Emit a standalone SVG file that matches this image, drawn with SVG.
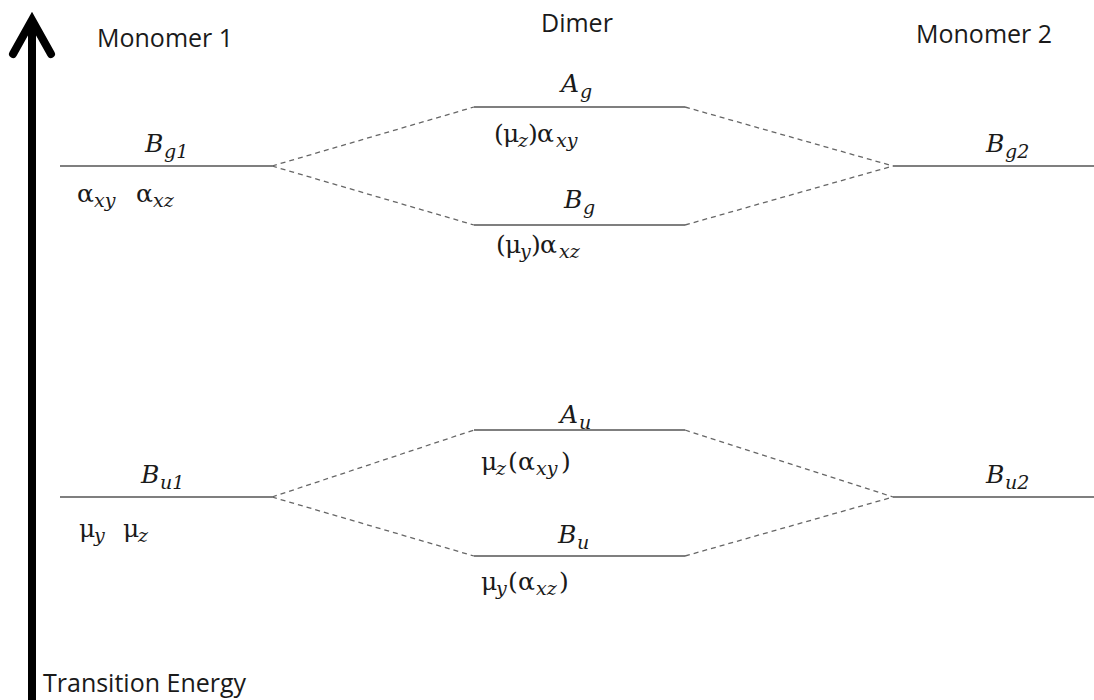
<svg xmlns="http://www.w3.org/2000/svg" width="1094" height="700" viewBox="0 0 1094 700">
<style>
.hd{font-family:"Open Sans","Liberation Sans",sans-serif;font-size:25px;fill:#1a1a1a}
.m{font-family:"DejaVu Serif","Liberation Serif",serif;font-size:25px;fill:#1a1a1a}
.i{font-style:italic}
.s{font-size:19px;font-style:italic}
.lvl{stroke:#555;stroke-width:1.6;fill:none}
.dash{stroke:#666;stroke-width:1.3;stroke-dasharray:5 4;fill:none}
</style>
<rect width="1094" height="700" fill="#fff"/>
<g id="axis">
<line x1="32" y1="700" x2="32" y2="22" stroke="#000" stroke-width="8"/>
<polyline points="13,54 32,20 51,54" fill="none" stroke="#000" stroke-width="8" stroke-linecap="round" stroke-linejoin="miter"/>
<text class="hd" x="43" y="692">Transition Energy</text>
</g>
<g id="headers">
<text class="hd" x="97" y="47">Monomer 1</text>
<text class="hd" x="541" y="32">Dimer</text>
<text class="hd" x="916" y="43">Monomer 2</text>
</g>
<g id="connectors">
<line class="dash" x1="272" y1="166" x2="474" y2="107"/>
<line class="dash" x1="272" y1="166" x2="474" y2="225"/>
<line class="dash" x1="685" y1="107" x2="893" y2="166"/>
<line class="dash" x1="685" y1="225" x2="893" y2="166"/>
<line class="dash" x1="272" y1="497" x2="474" y2="430"/>
<line class="dash" x1="272" y1="497" x2="474" y2="556"/>
<line class="dash" x1="685" y1="430" x2="893" y2="497"/>
<line class="dash" x1="685" y1="556" x2="893" y2="497"/>
</g>
<g id="Bg1">
<line class="lvl" x1="60" y1="166" x2="272" y2="166"/>
<text class="m"><tspan class="i" x="145" y="152">B</tspan><tspan class="s" x="164" y="158">g1</tspan></text>
<text class="m"><tspan x="77" y="202">α</tspan><tspan class="s" x="94" y="207">xy</tspan><tspan x="136" y="202">α</tspan><tspan class="s" x="153" y="207">xz</tspan></text>
</g>
<g id="Bu1">
<line class="lvl" x1="60" y1="497" x2="272" y2="497"/>
<text class="m"><tspan class="i" x="141" y="483">B</tspan><tspan class="s" x="160" y="489">u1</tspan></text>
<text class="m"><tspan x="79" y="537">μ</tspan><tspan class="s" x="94" y="542">y</tspan><tspan x="123" y="537">μ</tspan><tspan class="s" x="138" y="542">z</tspan></text>
</g>
<g id="Ag">
<line class="lvl" x1="474" y1="107" x2="685" y2="107"/>
<text class="m"><tspan class="i" x="561" y="92">A</tspan><tspan class="s" x="580" y="98">g</tspan></text>
<text class="m"><tspan x="494" y="142">(</tspan><tspan x="503" y="142">μ</tspan><tspan class="s" x="518" y="147">z</tspan><tspan x="528" y="142">)</tspan><tspan x="537" y="142">α</tspan><tspan class="s" x="556" y="147">xy</tspan></text>
</g>
<g id="Bg">
<line class="lvl" x1="474" y1="225" x2="685" y2="225"/>
<text class="m"><tspan class="i" x="564" y="208">B</tspan><tspan class="s" x="583" y="214">g</tspan></text>
<text class="m"><tspan x="496" y="253">(</tspan><tspan x="505" y="253">μ</tspan><tspan class="s" x="520" y="258">y</tspan><tspan x="531" y="253">)</tspan><tspan x="540" y="253">α</tspan><tspan class="s" x="559" y="258">xz</tspan></text>
</g>
<g id="Au">
<line class="lvl" x1="474" y1="430" x2="685" y2="430"/>
<text class="m"><tspan class="i" x="560" y="423">A</tspan><tspan class="s" x="579" y="429">u</tspan></text>
<text class="m"><tspan x="481" y="470">μ</tspan><tspan class="s" x="496" y="475">z</tspan><tspan x="508" y="470">(</tspan><tspan x="518" y="470">α</tspan><tspan class="s" x="536" y="475">xy</tspan><tspan x="561" y="470">)</tspan></text>
</g>
<g id="Bu">
<line class="lvl" x1="474" y1="556" x2="685" y2="556"/>
<text class="m"><tspan class="i" x="558" y="543">B</tspan><tspan class="s" x="577" y="549">u</tspan></text>
<text class="m"><tspan x="481" y="590">μ</tspan><tspan class="s" x="496" y="595">y</tspan><tspan x="508" y="590">(</tspan><tspan x="518" y="590">α</tspan><tspan class="s" x="536" y="595">xz</tspan><tspan x="559" y="590">)</tspan></text>
</g>
<g id="Bg2">
<line class="lvl" x1="893" y1="166" x2="1094" y2="166"/>
<text class="m"><tspan class="i" x="986" y="152">B</tspan><tspan class="s" x="1005" y="158">g2</tspan></text>
</g>
<g id="Bu2">
<line class="lvl" x1="893" y1="497" x2="1094" y2="497"/>
<text class="m"><tspan class="i" x="986" y="483">B</tspan><tspan class="s" x="1005" y="489">u2</tspan></text>
</g>
</svg>
